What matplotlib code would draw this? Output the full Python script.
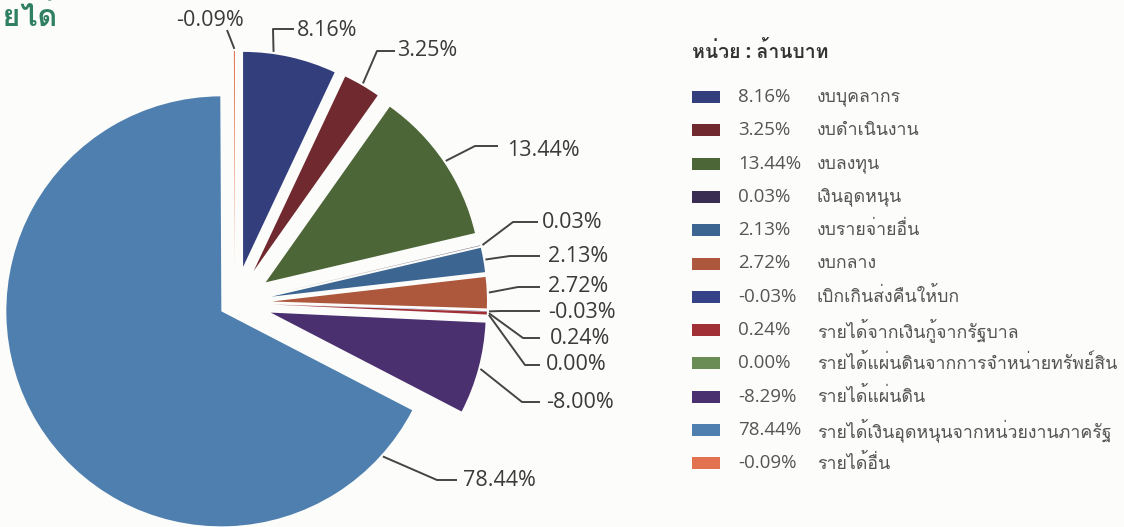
import matplotlib.pyplot as plt
import numpy as np
from matplotlib import font_manager as fm
from matplotlib.ft2font import FT2Font
from matplotlib.patches import Rectangle

# ข้อมูล (หน่วย : ล้านบาท, เป็นร้อยละ)
names = ['งบบุคลากร', 'งบดำเนินงาน', 'งบลงทุน', 'เงินอุดหนุน', 'งบรายจ่ายอื่น',
         'งบกลาง', 'เบิกเกินส่งคืนให้บก', 'รายได้จากเงินกู้จากรัฐบาล',
         'รายได้แผ่นดินจากการจำหน่ายทรัพย์สิน', 'รายได้แผ่นดิน',
         'รายได้เงินอุดหนุนจากหน่วยงานภาครัฐ', 'รายได้อื่น']
legend_pct = [8.16, 3.25, 13.44, 0.03, 2.13, 2.72, -0.03, 0.24, 0.00, -8.29, 78.44, -0.09]
pie_pct = [8.16, 3.25, 13.44, 0.03, 2.13, 2.72, -0.03, 0.24, 0.00, -8.00, 78.44, -0.09]
colors = ['#333f7d', '#70292f', '#4d6638', '#3a2d52', '#3d6592', '#ad573c',
          '#364287', '#a02f36', '#6a8c55', '#4b3070', '#4e7fae', '#e2714f']

# หาฟอนต์ที่มีอักษรไทย
thai_font = None
for f in fm.fontManager.ttflist:
    try:
        if 0x0E01 in FT2Font(f.fname).get_charmap():
            thai_font = f.name
            break
    except Exception:
        pass
fams = ['Open Sans'] + ([thai_font] if thai_font else []) + ['DejaVu Sans']
plt.rcParams['font.family'] = fams

W, H = 1124, 527
def iy(y):
    return H - y

fig = plt.figure(figsize=(W / 100, H / 100), dpi=100, facecolor='#fcfcfa')
ax = fig.add_axes([0, 0, 1, 1])
ax.set_facecolor('#fcfcfa')

R = 215
# explode ของ pie เป็นหน่วยข้อมูล (พิกเซล) ไม่ใช่สัดส่วนรัศมี
explode = [37] * len(pie_pct)
explode[10] = 16
wedges, _ = ax.pie(np.abs(pie_pct), colors=colors, startangle=90, counterclock=False,
                   explode=explode, radius=R, center=(235, iy(303)),
                   wedgeprops=dict(linewidth=0))
ax.set_xlim(0, W)
ax.set_ylim(0, H)
ax.set_aspect('equal')
ax.axis('off')

# ป้ายกำกับ: ตำแหน่งตามแนวขอบชิ้น, จุดหักมุม, ตำแหน่งข้อความ (พิกัดภาพ)
frac = [0.32, 0.5, 0.5, 0.5, 0.5, 0.5, 0.5, 0.5, 0.5, 0.5, 0.06, 0.5]
elbow = [(273, 29), (377, 51), (475, 146), (513, 222), (510, 256), (518, 287),
         (500, 311), (523, 338), (525, 365), (522, 402), (437, 480), (227, 30)]
line_end = [294, 395, 498, 538, 540, 540, 540, 540, 540, 540, 457, None]
text_pos = [(297, 31), (397, 50), (507, 150), (542, 222), (548, 256), (548, 286),
            (548, 312), (550, 338), (546, 365), (546, 403), (463, 480), (210, 20)]

for i, w in enumerate(wedges):
    a = np.radians(w.theta2 - frac[i] * (w.theta2 - w.theta1))
    ax0 = w.center[0] + w.r * 1.01 * np.cos(a)
    ay0 = w.center[1] + w.r * 1.01 * np.sin(a)
    xs = [ax0, elbow[i][0]]
    ys = [ay0, iy(elbow[i][1])]
    if line_end[i] is not None:
        xs.append(line_end[i])
        ys.append(iy(elbow[i][1]))
    ax.plot(xs, ys, color='#444444', lw=1.4, solid_capstyle='butt')
    tx, ty = text_pos[i]
    ax.text(tx, iy(ty), f'{pie_pct[i]:.2f}%', fontsize=15.5, color='#3a3a3a',
            ha='center' if line_end[i] is None else 'left', va='center')

# ชื่อเรื่องที่ถูกตัด
ax.text(58, iy(26), 'รายได้', fontsize=22, fontweight='bold', color='#2f8062',
        ha='right', va='baseline')

# คำอธิบาย
ax.text(692, iy(52), 'หน่วย : ล้านบาท', fontsize=14, fontweight='bold',
        color='#333333', va='center')
for i in range(len(names)):
    y = 97 + 33.3 * i
    ax.add_patch(Rectangle((692, iy(y) - 6), 28, 12, color=colors[i], lw=0))
    ax.text(738, iy(y), f'{legend_pct[i]:.2f}%', fontsize=13.5, color='#555555', va='center')
    ax.text(817, iy(y), names[i], fontsize=12.8, color='#555555', va='center')

fig.savefig('out.png', dpi=100, facecolor=fig.get_facecolor())
